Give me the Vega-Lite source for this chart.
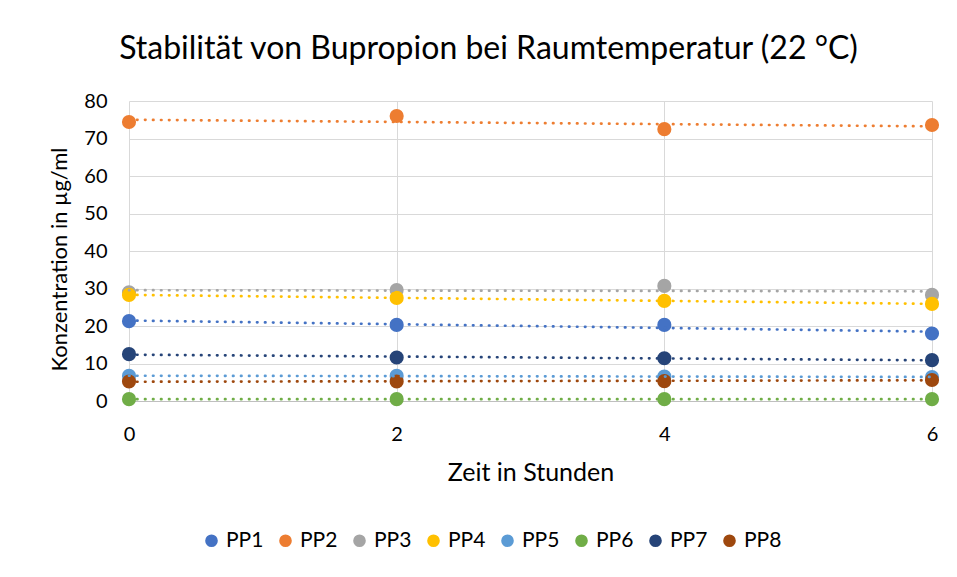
{
  "$schema": "https://vega.github.io/schema/vega-lite/v6.json",
  "autosize": {"type": "none"},
  "width": 803,
  "height": 300,
  "padding": {"left": 129, "top": 101, "right": 25, "bottom": 176},
  "background": "white",
  "title": {
    "text": "Stabilität von Bupropion bei Raumtemperatur (22 °C)",
    "font": "Lato",
    "fontSize": 32,
    "fontWeight": "normal",
    "color": "#000000",
    "anchor": "middle",
    "dx": -42,
    "offset": 25
  },
  "data": {
    "values": [
      {"series": "PP1", "time": 0, "value": 21.3},
      {"series": "PP1", "time": 2, "value": 20.3},
      {"series": "PP1", "time": 4, "value": 20.3},
      {"series": "PP1", "time": 6, "value": 18.0},
      {"series": "PP2", "time": 0, "value": 74.4},
      {"series": "PP2", "time": 2, "value": 76.0},
      {"series": "PP2", "time": 4, "value": 72.5},
      {"series": "PP2", "time": 6, "value": 73.6},
      {"series": "PP3", "time": 0, "value": 29.0},
      {"series": "PP3", "time": 2, "value": 29.6},
      {"series": "PP3", "time": 4, "value": 30.7},
      {"series": "PP3", "time": 6, "value": 28.3},
      {"series": "PP4", "time": 0, "value": 28.3},
      {"series": "PP4", "time": 2, "value": 27.5},
      {"series": "PP4", "time": 4, "value": 26.7},
      {"series": "PP4", "time": 6, "value": 25.9},
      {"series": "PP5", "time": 0, "value": 6.7},
      {"series": "PP5", "time": 2, "value": 6.7},
      {"series": "PP5", "time": 4, "value": 6.5},
      {"series": "PP5", "time": 6, "value": 6.4},
      {"series": "PP6", "time": 0, "value": 0.5},
      {"series": "PP6", "time": 2, "value": 0.5},
      {"series": "PP6", "time": 4, "value": 0.5},
      {"series": "PP6", "time": 6, "value": 0.5},
      {"series": "PP7", "time": 0, "value": 12.5},
      {"series": "PP7", "time": 2, "value": 11.6},
      {"series": "PP7", "time": 4, "value": 11.4},
      {"series": "PP7", "time": 6, "value": 10.9},
      {"series": "PP8", "time": 0, "value": 5.2},
      {"series": "PP8", "time": 2, "value": 5.2},
      {"series": "PP8", "time": 4, "value": 5.3},
      {"series": "PP8", "time": 6, "value": 5.6}
    ]
  },
  "encoding": {
    "x": {
      "field": "time",
      "type": "quantitative",
      "scale": {"domain": [0, 6], "nice": false, "zero": false},
      "axis": {
        "title": "Zeit in Stunden",
        "values": [0, 2, 4, 6],
        "grid": true,
        "gridColor": "#d9d9d9",
        "domain": true,
        "domainColor": "#bfbfbf",
        "ticks": false,
        "labelFlush": false,
        "labelPadding": 23,
        "titlePadding": 16,
        "titleFontSize": 25
      }
    },
    "y": {
      "field": "value",
      "type": "quantitative",
      "scale": {"domain": [0, 80], "nice": false},
      "axis": {
        "title": "Konzentration in µg/ml",
        "values": [0, 10, 20, 30, 40, 50, 60, 70, 80],
        "grid": true,
        "gridColor": "#d9d9d9",
        "domain": false,
        "ticks": false,
        "labelPadding": 22,
        "titlePadding": 12,
        "titleFontSize": 22,
        "titleY": 158
      }
    },
    "color": {
      "field": "series",
      "type": "nominal",
      "scale": {
        "domain": ["PP1", "PP2", "PP3", "PP4", "PP5", "PP6", "PP7", "PP8"],
        "range": ["#4472C4", "#ED7D31", "#A5A5A5", "#FFC000", "#5B9BD5", "#70AD47", "#264478", "#9E480E"]
      }
    }
  },
  "layer": [
    {
      "mark": {"type": "point", "filled": true, "shape": "circle", "size": 200, "opacity": 1},
      "encoding": {
        "order": {"field": "series"},
        "color": {
          "field": "series",
          "type": "nominal",
          "legend": {
            "orient": "none",
            "legendX": 72,
            "legendY": 429,
            "direction": "horizontal",
            "columns": 8,
            "title": null,
            "symbolType": "circle",
            "symbolSize": 160,
            "symbolStrokeWidth": 0,
            "symbolOpacity": 1,
            "labelFont": "Lato",
            "labelFontSize": 21,
            "labelColor": "#000000",
            "labelOffset": 4,
            "columnPadding": 11
          }
        }
      }
    },
    {
      "transform": [
        {"regression": "value", "on": "time", "groupby": ["series"], "extent": [0, 6]}
      ],
      "mark": {"type": "line", "strokeWidth": 2.7, "strokeDash": [0.5, 7.5], "strokeCap": "round"},
      "encoding": {
        "color": {"field": "series", "type": "nominal", "legend": null}
      }
    }
  ],
  "config": {
    "view": {"stroke": null},
    "axis": {
      "labelFont": "Lato",
      "labelFontSize": 20,
      "labelColor": "#000000",
      "titleFont": "Lato",
      "titleFontWeight": "normal",
      "titleColor": "#000000"
    }
  }
}
